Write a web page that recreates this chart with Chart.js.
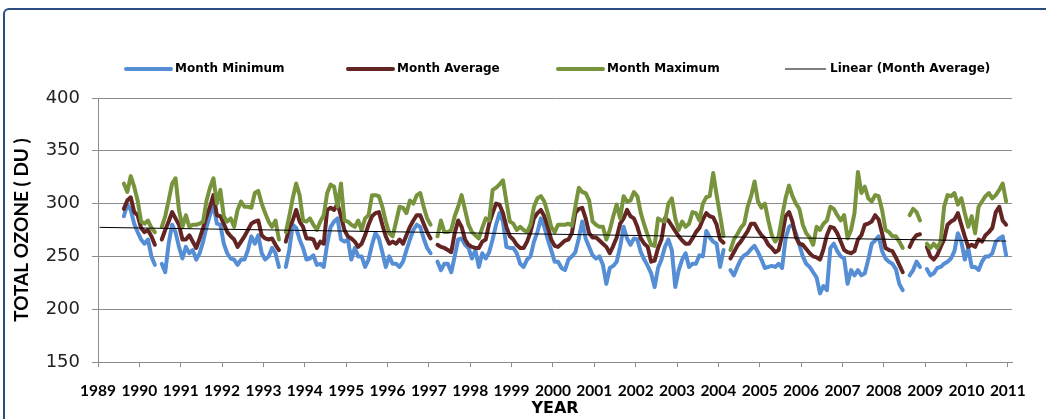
<!DOCTYPE html>
<html>
<head>
<meta charset="utf-8">
<title>Total ozone</title>
<script src="https://cdn.jsdelivr.net/npm/chart.js@4.4.1/dist/chart.umd.min.js"></script>
<style>
  html, body { margin: 0; padding: 0; background: #fff; }
  #wrap { position: relative; width: 1046px; height: 419px; overflow: hidden; }
  #frame { position: absolute; left: 3px; top: 8px; width: 1100px; height: 500px; border: 2px solid #2b4d80; border-radius: 6px; }
  #box { position: absolute; left: 0; top: 0; width: 1046px; height: 419px; }
</style>
</head>
<body>
<div id="wrap">
  <div id="frame"></div>
  <div id="box"><canvas id="ozone"></canvas></div>
</div>
<script>
// Monthly total ozone (DU), first value is Aug 1989, one row per year
const startYear = 1989;
const startMonth = 8;

const monthMinimum = [
  288, 299, 294, 281, 273,
  266, 262, 266, 250, 242, null, 243, 235, 262, 280, 273, 259,
  248, 259, 253, 256, 247, 253, 264, 278, 289, 299, 281, 280,
  262, 253, 248, 247, 242, 247, 247, 256, 269, 262, 270, 253,
  247, 250, 258, 253, 240, null, 240, 256, 280, 277, 266, 258,
  247, 248, 251, 242, 243, 240, 262, 278, 283, 286, 266, 264,
  266, 247, 258, 250, 250, 240, 247, 261, 272, 267, 254, 240,
  250, 243, 243, 240, 245, 256, 266, 275, 280, 278, 267, 258,
  253, null, 245, 237, 243, 243, 235, 250, 266, 267, 261, 258,
  248, 256, 240, 253, 248, 254, 266, 280, 291, 283, 259, 258,
  258, 253, 243, 240, 247, 250, 264, 273, 286, 278, 266, 256,
  245, 245, 239, 237, 247, 250, 254, 267, 283, 267, 259, 251,
  248, 250, 242, 224, 239, 241, 245, 259, 278, 267, 261, 267,
  266, 254, 247, 241, 234, 221, 239, 247, 259, 266, 256, 221,
  237, 247, 253, 240, 243, 243, 251, 250, 274, 268, 264, 262,
  240, 256, null, 237, 232, 240, 247, 251, 253, 257, 260, 254,
  247, 239, 240, 241, 240, 243, 239, 267, 278, 280, 272, 261,
  250, 243, 240, 235, 230, 215, 222, 218, 258, 262, 255, 250,
  248, 224, 237, 232, 237, 232, 234, 247, 262, 265, 269, 255,
  248, 245, 243, 238, 224, 218, null, 232, 237, 245, 240, null,
  238, 232, 234, 239, 240, 243, 245, 248, 255, 272, 264, 247,
  258, 240, 240, 237, 245, 250, 250, 253, 264, 267, 269, 251
];

const monthAverage = [
  295, 303, 306, 292, 289,
  277, 273, 275, 269, 261, null, 266, 275, 283, 292, 286, 280,
  266, 266, 270, 264, 258, 267, 277, 288, 297, 308, 289, 288,
  281, 273, 269, 266, 259, 264, 269, 275, 281, 283, 284, 270,
  267, 266, 267, 261, 256, null, 264, 277, 284, 294, 283, 278,
  267, 267, 266, 258, 264, 262, 294, 296, 294, 300, 288, 275,
  269, 267, 264, 259, 262, 270, 280, 288, 291, 292, 280, 269,
  262, 264, 262, 266, 262, 270, 278, 284, 289, 289, 281, 273,
  267, null, 261, 259, 258, 256, 254, 272, 284, 278, 266, 261,
  259, 258, 258, 264, 266, 281, 291, 300, 299, 291, 278, 269,
  266, 261, 258, 258, 264, 273, 286, 291, 294, 288, 278, 266,
  260, 259, 262, 265, 266, 272, 291, 295, 296, 286, 272, 268,
  268, 265, 262, 259, 253, 260, 268, 281, 286, 294, 288, 286,
  278, 267, 262, 259, 245, 246, 258, 266, 286, 284, 279, 274,
  269, 265, 262, 262, 267, 273, 277, 285, 291, 288, 287, 280,
  266, 263, null, 248, 254, 260, 264, 269, 274, 281, 281, 275,
  270, 267, 261, 258, 254, 256, 270, 288, 292, 283, 268, 262,
  261, 257, 253, 250, 249, 247, 257, 270, 278, 277, 272, 264,
  256, 254, 253, 255, 266, 270, 280, 281, 283, 289, 285, 272,
  258, 256, 255, 249, 242, 235, null, 259, 266, 270, 271, null,
  259, 250, 247, 251, 259, 266, 280, 283, 285, 291, 280, 269,
  259, 261, 259, 266, 264, 270, 273, 277, 292, 297, 284, 280
];

const monthMaximum = [
  319, 311, 326, 316, 303,
  283, 281, 284, 277, 273, null, 278, 288, 303, 319, 324, 294,
  278, 289, 278, 280, 280, 281, 283, 303, 315, 324, 300, 313,
  288, 283, 286, 278, 294, 302, 297, 297, 296, 310, 312, 300,
  291, 283, 278, 284, 266, null, 273, 288, 305, 319, 308, 284,
  283, 286, 280, 275, 283, 289, 310, 318, 316, 297, 319, 284,
  283, 280, 278, 284, 275, 286, 289, 308, 308, 307, 297, 283,
  272, 269, 283, 297, 296, 291, 303, 300, 308, 310, 297, 286,
  280, null, 269, 284, 273, 273, 275, 288, 297, 308, 294, 280,
  273, 270, 267, 277, 286, 284, 313, 315, 318, 322, 302, 283,
  281, 275, 278, 275, 273, 280, 297, 305, 307, 302, 291, 278,
  273, 280, 280, 280, 281, 279, 297, 315, 311, 310, 303, 283,
  280, 278, 278, 266, 275, 288, 299, 286, 307, 302, 303, 311,
  307, 291, 280, 270, 261, 260, 286, 284, 283, 300, 305, 286,
  275, 283, 278, 281, 292, 291, 284, 300, 306, 307, 329, 308,
  289, 269, null, 256, 266, 271, 277, 281, 297, 307, 321, 302,
  296, 300, 284, 270, 264, 269, 288, 305, 317, 307, 300, 295,
  280, 272, 268, 261, 278, 275, 281, 284, 297, 295, 289, 284,
  289, 267, 275, 291, 330, 310, 316, 305, 302, 308, 307, 294,
  275, 273, 269, 269, 264, 258, null, 289, 295, 292, 284, null,
  262, 258, 262, 258, 264, 297, 308, 307, 310, 299, 305, 291,
  278, 288, 272, 297, 302, 307, 310, 305, 308, 313, 319, 302
];

const trendYears = [1989.04, 2010.96];
const trendValues = [277.5, 264.5];

const yearTicks = [1989, 1990, 1991, 1992, 1993, 1994, 1995, 1996, 1997, 1998, 1999, 2000,
  2001, 2002, 2003, 2004, 2005, 2006, 2007, 2008, 2009, 2010, 2011];

function toPoints(values) {
  return values.map(function (v, i) {
    return { x: startYear + (startMonth - 0.5 + i) / 12, y: v };
  });
}

const gridColor = '#8c8c8c';

const lineStyle = {
  pointRadius: 0,
  borderWidth: 4,
  tension: 0,
  borderJoinStyle: 'round',
  borderCapStyle: 'round',
  fill: false
};

const data = {
  datasets: [
    Object.assign({ label: 'Month Minimum', data: toPoints(monthMinimum), borderColor: '#558ED5', order: 3 }, lineStyle),
    Object.assign({ label: 'Month Average', data: toPoints(monthAverage), borderColor: '#632523', order: 2 }, lineStyle),
    Object.assign({ label: 'Month Maximum', data: toPoints(monthMaximum), borderColor: '#77933C', order: 1 }, lineStyle),
    {
      label: 'Linear (Month Average)',
      data: trendYears.map(function (x, i) { return { x: x, y: trendValues[i] }; }),
      borderColor: '#000',
      borderWidth: 1,
      pointRadius: 0,
      order: 0
    }
  ]
};

// Legend drawn by hand, one row across the top
const lineLegend = {
  id: 'lineLegend',
  afterDraw: function (chart) {
    const ctx = chart.ctx;
    const starts = [126, 348, 558, 785];
    const y = 69;
    ctx.save();
    ctx.font = 'bold 12px "DejaVu Sans"';
    ctx.textBaseline = 'middle';
    ctx.fillStyle = '#000';
    chart.data.datasets.forEach(function (ds, i) {
      const thin = ds.borderWidth < 2;
      const len = thin ? 41 : 45;
      ctx.beginPath();
      ctx.lineWidth = thin ? 1 : 4;
      ctx.lineCap = thin ? 'butt' : 'round';
      ctx.strokeStyle = ds.borderColor;
      ctx.moveTo(starts[i], y);
      ctx.lineTo(starts[i] + len, y);
      ctx.stroke();
      ctx.fillText(ds.label, starts[i] + len + 4, y);
    });
    ctx.restore();
  }
};

const config = {
  type: 'line',
  data: data,
  plugins: [lineLegend],
  options: {
    responsive: true,
    maintainAspectRatio: false,
    animation: false,
    layout: { padding: { top: 98, right: 34, bottom: 0, left: 0 } },
    plugins: {
      legend: { display: false },
      tooltip: { enabled: false }
    },
    scales: {
      x: {
        type: 'linear',
        min: 1989,
        max: 2011.1,
        afterBuildTicks: function (scale) {
          scale.ticks = yearTicks.map(function (v) { return { value: v }; });
        },
        afterFit: function (scale) { scale.height = 57; },
        grid: { drawOnChartArea: false, drawTicks: true, tickLength: 5, color: gridColor },
        border: { color: gridColor },
        ticks: {
          autoSkip: false,
          maxRotation: 0,
          padding: 15,
          color: '#000',
          font: { family: 'Lato', size: 15.5, weight: 'bold' },
          callback: function (v) { return String(v); }
        },
        title: {
          display: true,
          text: 'YEAR',
          color: '#000',
          font: { family: 'DejaVu Sans', size: 16, weight: 'bold' },
          padding: { top: 0, bottom: 1 }
        }
      },
      y: {
        min: 150,
        max: 400,
        afterFit: function (scale) { scale.width = 98; },
        grid: { color: gridColor, tickLength: 6 },
        border: { color: gridColor },
        ticks: {
          stepSize: 50,
          padding: 12,
          color: '#222',
          font: { family: 'DejaVu Sans', size: 18 }
        },
        title: {
          display: true,
          text: 'TOTAL OZONE ( DU )',
          color: '#000',
          font: { family: 'Lato', size: 19, weight: 'bold' },
          padding: { top: 10, bottom: 0 }
        }
      }
    }
  }
};

const ozoneChart = new Chart(document.getElementById('ozone'), config);
</script>
</body>
</html>
